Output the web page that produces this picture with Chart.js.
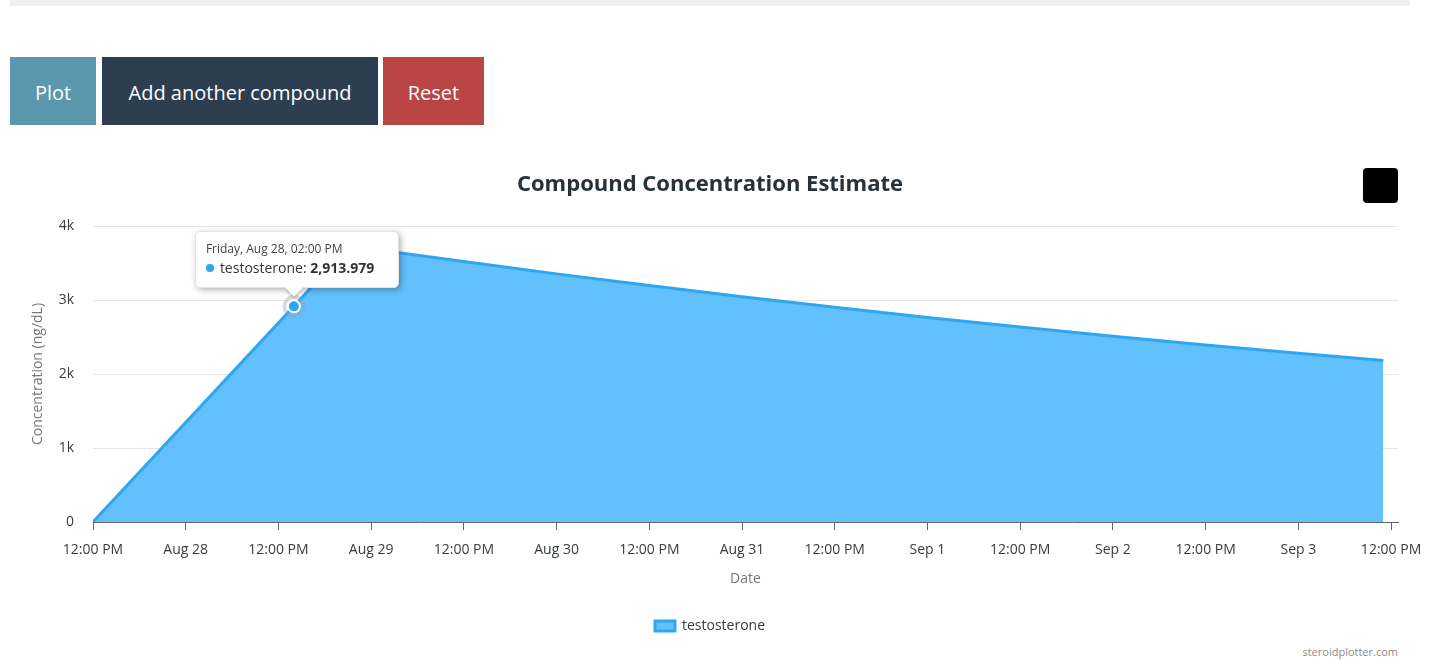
<!DOCTYPE html>
<html>
<head>
<meta charset="utf-8">
<title>Compound Concentration Estimate</title>
<script src="https://cdn.jsdelivr.net/npm/chart.js@4.4.0/dist/chart.umd.min.js"></script>
<style>
  body { margin: 0; width: 1449px; height: 660px; overflow: hidden; background: #fff;
         font-family: "Open Sans", sans-serif; position: relative; }
  .topbar { position: absolute; left: 10px; top: 0; width: 1400px; height: 6px; background: #efefef; }
  .btn { position: absolute; top: 57px; height: 68px; line-height: 71px; color: #fff;
         font-size: 20px; text-align: center; }
  #plot { left: 10px; width: 86px; background: #5b97ad; }
  #add { left: 102px; width: 276px; background: #2c3e50; }
  #reset { left: 383px; width: 101px; background: #b94545; }
  #menu { position: absolute; left: 1363px; top: 168px; width: 35px; height: 35px;
          background: #000; border-radius: 4px; }
  #wrap { position: absolute; left: 0; top: 150px; width: 1446px; height: 493px; }
  #credit { position: absolute; right: 51px; top: 644px; font-size: 11px; color: #8a8a8a; }
  #tip { position: absolute; width: 204px; height: 57px; box-sizing: border-box; background: #fff;
         border: 1px solid #e3e3e3; border-radius: 5px; box-shadow: 2px 2px 6px rgba(0,0,0,0.3);
         color: #333; display: none; }
  #tip .t-title { position: absolute; left: 10px; top: 8px; font-size: 12px; color: #444; }
  #tip .t-body { position: absolute; left: 10px; top: 26px; font-size: 14px; color: #333; white-space: nowrap; }
  #tip .dot { display: inline-block; width: 8px; height: 8px; border-radius: 50%; background: #2fa6f0;
              margin-right: 6px; vertical-align: 1px; }
  #tip .caret { position: absolute; width: 12px; height: 12px; background: #fff; transform: rotate(45deg);
                bottom: -7px; box-shadow: 2px 2px 3px rgba(0,0,0,0.18); }
</style>
</head>
<body>
<div class="topbar"></div>
<div class="btn" id="plot">Plot</div>
<div class="btn" id="add">Add another compound</div>
<div class="btn" id="reset">Reset</div>
<div id="wrap"><canvas id="chart"></canvas></div>
<div id="menu"></div>
<div id="tip"><div class="t-title"></div><div class="t-body"><span class="dot"></span><span class="t-label"></span><b class="t-val"></b></div><div class="caret"></div></div>
<div id="credit">steroidplotter.com</div>
<script>
// values
var startDate = "2020-08-27T12:00";
var pointDates = [
  "2020-08-27T12:00", "2020-08-28T14:00", "2020-08-28T21:00", "2020-08-29T00:00",
  "2020-08-29T12:00", "2020-08-30T00:00", "2020-08-30T12:00", "2020-08-31T00:00",
  "2020-08-31T12:00", "2020-09-01T00:00", "2020-09-01T12:00", "2020-09-02T00:00",
  "2020-09-02T12:00", "2020-09-03T00:00", "2020-09-03T11:00"
];
var concentration = [0, 2913.979, 3720, 3690, 3519, 3353, 3195, 3045, 2902, 2765, 2635, 2511, 2393, 2280, 2182];
var seriesName = "testosterone";
var hoverIndex = 1;

var xTickHours = [0, 12, 24, 36, 48, 60, 72, 84, 96, 108, 120, 132, 144, 156, 168];
var xTickLabels = ["12:00 PM", "Aug 28", "12:00 PM", "Aug 29", "12:00 PM", "Aug 30", "12:00 PM",
  "Aug 31", "12:00 PM", "Sep 1", "12:00 PM", "Sep 2", "12:00 PM", "Sep 3", "12:00 PM"];
var yTickValues = [0, 1000, 2000, 3000, 4000];
var yTickLabels = ["0", "1k", "2k", "3k", "4k"];

var t0 = new Date(startDate).getTime();
function hoursOf(s) { return (new Date(s).getTime() - t0) / 3600000; }

var points = pointDates.map(function (d, i) {
  return { x: hoursOf(d), y: concentration[i] };
});

var lineColor = "#2fa6f0";
var fillColor = "#62c0fc";
var textColor = "#373d3f";
var font = "'Open Sans', sans-serif";

var tipPlugin = {
  id: "fixedTip",
  afterDatasetsDraw: function (chart) {
    var el = chart.getDatasetMeta(0).data[hoverIndex];
    var ctx = chart.ctx;
    ctx.save();
    ctx.beginPath();
    ctx.arc(el.x, el.y, 9.5, 0, Math.PI * 2);
    ctx.lineWidth = 4;
    ctx.strokeStyle = "rgba(140,160,180,0.35)";
    ctx.stroke();
    ctx.restore();

    var wrap = document.getElementById("wrap");
    var tip = document.getElementById("tip");
    var d = new Date(pointDates[hoverIndex]);
    var days = ["Sunday", "Monday", "Tuesday", "Wednesday", "Thursday", "Friday", "Saturday"];
    var months = ["Jan", "Feb", "Mar", "Apr", "May", "Jun", "Jul", "Aug", "Sep", "Oct", "Nov", "Dec"];
    var h = d.getHours();
    var hh = h % 12 === 0 ? 12 : h % 12;
    var title = days[d.getDay()] + ", " + months[d.getMonth()] + " " + d.getDate() + ", " +
      (hh < 10 ? "0" : "") + hh + ":" + ("0" + d.getMinutes()).slice(-2) + " " + (h < 12 ? "AM" : "PM");
    tip.querySelector(".t-title").textContent = title;
    tip.querySelector(".t-label").textContent = seriesName + ": ";
    tip.querySelector(".t-val").textContent = concentration[hoverIndex].toLocaleString("en-US",
      { minimumFractionDigits: 3, maximumFractionDigits: 3 });
    var px = wrap.offsetLeft + el.x;
    var py = wrap.offsetTop + el.y;
    tip.style.left = (px - 99) + "px";
    tip.style.top = (py - 75) + "px";
    tip.querySelector(".caret").style.left = (99 - 7) + "px";
    tip.style.display = "block";
  }
};

new Chart(document.getElementById("chart"), {
  type: "line",
  data: {
    datasets: [{
      label: seriesName,
      data: points,
      borderColor: lineColor,
      backgroundColor: fillColor,
      borderWidth: 3,
      fill: "origin",
      tension: 0,
      pointRadius: function (c) { return c.dataIndex === hoverIndex ? 6 : 0; },
      pointBackgroundColor: lineColor,
      pointBorderColor: "#fff",
      pointBorderWidth: 2
    }]
  },
  options: {
    responsive: true,
    maintainAspectRatio: false,
    animation: false,
    events: [],
    layout: { padding: { left: 22, right: 48, top: 0, bottom: 0 } },
    scales: {
      x: {
        type: "linear",
        min: 0,
        max: 168.9,
        afterBuildTicks: function (axis) {
          axis.ticks = xTickHours.map(function (v) { return { value: v }; });
        },
        afterFit: function (axis) { axis.height = 87; },
        ticks: {
          autoSkip: false,
          maxRotation: 0,
          padding: 12,
          color: textColor,
          font: { family: font, size: 14 },
          callback: function (v) { return xTickLabels[xTickHours.indexOf(v)]; }
        },
        grid: { display: true, drawOnChartArea: false, drawTicks: true, tickLength: 8, color: "#666" },
        border: { display: true, color: "#666", width: 1 },
        title: {
          display: true, text: "Date", color: "#777",
          font: { family: font, size: 14 },
          padding: { top: 0, bottom: 22 }
        }
      },
      y: {
        min: 0,
        max: 4000,
        afterBuildTicks: function (axis) {
          axis.ticks = yTickValues.map(function (v) { return { value: v }; });
        },
        afterFit: function (axis) { axis.width = 71; },
        ticks: {
          padding: 19,
          color: textColor,
          font: { family: font, size: 14 },
          callback: function (v) { return yTickLabels[yTickValues.indexOf(v)]; }
        },
        grid: { color: "#e6e6e6", drawTicks: false },
        border: { display: false },
        title: {
          display: true, text: "Concentration (ng/dL)", color: "#777",
          font: { family: font, size: 14 },
          padding: { top: 8, bottom: 0 }
        }
      }
    },
    plugins: {
      title: {
        display: true,
        text: "Compound Concentration Estimate",
        color: "#263238",
        font: { family: font, size: 22, weight: "bold" },
        padding: { top: 21.8, bottom: 27.8 }
      },
      legend: {
        position: "bottom",
        labels: {
          color: textColor,
          font: { family: font, size: 14 },
          boxWidth: 20,
          boxHeight: 10,
          padding: 10
        }
      },
      tooltip: { enabled: false }
    }
  },
  plugins: [tipPlugin]
});
</script>
</body>
</html>
